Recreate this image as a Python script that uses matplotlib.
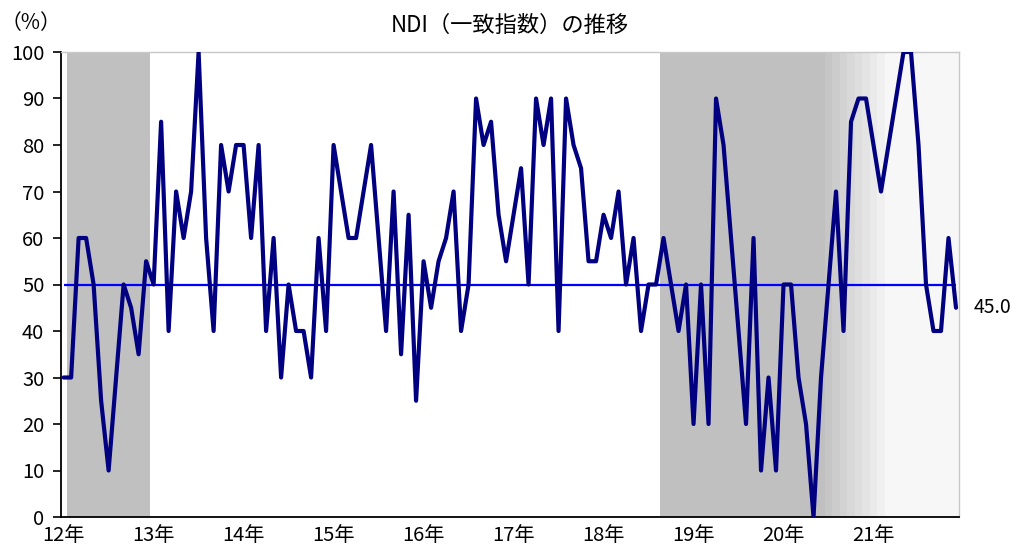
import numpy as np
import matplotlib
matplotlib.use('Agg')
import matplotlib.pyplot as plt

plt.rcParams['font.family'] = ['Noto Sans CJK JP', 'DejaVu Sans']

# 月次NDI (2012年1月〜2021年12月)
ndi = [30, 30, 60, 60, 50, 25, 10, 30, 50, 45, 35, 55,
       50, 85, 40, 70, 60, 70, 100, 60, 40, 80, 70, 80,
       80, 60, 80, 40, 60, 30, 50, 40, 40, 30, 60, 40,
       80, 70, 60, 60, 70, 80, 60, 40, 70, 35, 65, 25,
       55, 45, 55, 60, 70, 40, 50, 90, 80, 85, 65, 55,
       65, 75, 50, 90, 80, 90, 40, 90, 80, 75, 55, 55,
       65, 60, 70, 50, 60, 40, 50, 50, 60, 50, 40, 50,
       20, 50, 20, 90, 80, 60, 40, 20, 60, 10, 30, 10,
       50, 50, 30, 20, 0, 30, 50, 70, 40, 85, 90, 90,
       80, 70, 80, 90, 100, 100, 80, 50, 40, 40, 60, 45]
year_labels = ['12年', '13年', '14年', '15年', '16年', '17年', '18年', '19年', '20年', '21年']
threshold = 50

# 景気後退期 (月インデックス, 始まり〜終わり)
recessions = [(1, 11), (80, 101)]
# 後退期の終わりがはっきりしない部分の濃淡
fade_start = 102
fade_grays = [198, 204, 210, 216, 222, 228, 234, 240] + [247] * 10

months = np.arange(len(ndi))

fig = plt.figure(figsize=(10.12, 5.47), dpi=100)
ax = fig.add_axes([61 / 1012, 1 - 517 / 547, 898 / 1012, 465 / 547])

for s, e in recessions:
    ax.axvspan(s - 0.5, e + 0.5, color='#c0c0c0', lw=0, zorder=0)
for k, g in enumerate(fade_grays):
    m = fade_start + k
    ax.axvspan(m - 0.5, m + 0.5, color=(g / 255, g / 255, g / 255), lw=0, zorder=0)

ax.hlines(threshold, months[0], months[-1], color='#0000ff', lw=1.6, zorder=2)
ax.plot(months, ndi, color='#000080', lw=3, zorder=3, solid_capstyle='round')

ax.text(months[-1] + 2.3, ndi[-1], f'{ndi[-1]:.1f}', fontsize=14, va='center', ha='left')

ax.set_xlim(-0.35, 119.4)
ax.set_ylim(0, 100)
ax.set_yticks(range(0, 101, 10))
ax.set_xticks(months[::12])
ax.set_xticklabels(year_labels)
ax.tick_params(axis='y', length=6, width=1.2, pad=6, labelsize=14.5, direction='out')
ax.tick_params(axis='x', length=0, pad=6, labelsize=14.5)

for side in ['left', 'bottom']:
    ax.spines[side].set_color('black')
    ax.spines[side].set_linewidth(1.3)
for side in ['top', 'right']:
    ax.spines[side].set_color('#c8c8c8')
    ax.spines[side].set_linewidth(1)

fig.text(31 / 1012, 1 - 23 / 547, '（%）', fontsize=15, ha='center', va='center')
fig.text(510 / 1012, 1 - 25 / 547, 'NDI（一致指数）の推移', fontsize=16, ha='center', va='center')

fig.savefig('out.png', dpi=100)
